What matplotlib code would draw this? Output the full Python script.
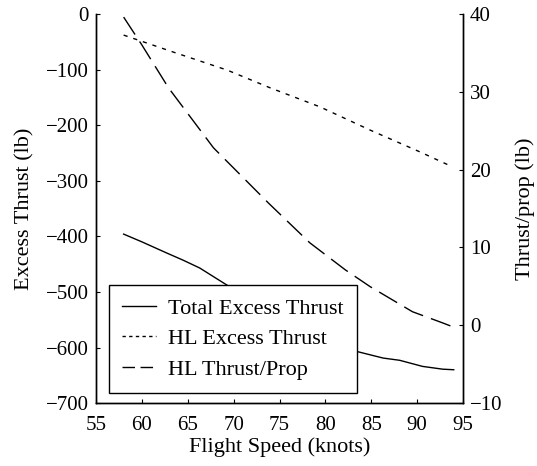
import numpy as np
import matplotlib
matplotlib.use("Agg")
import matplotlib.pyplot as plt
from matplotlib.lines import Line2D

plt.rcParams['font.family'] = ['Liberation Serif', 'DejaVu Serif']
plt.rcParams['font.size'] = 16

# total excess thrust (left axis)
speed_total = [58, 60, 62.7, 64.5, 66.3, 69.1, 72, 75, 78, 81, 83.4, 86.3, 88.1, 90.6, 92.8, 94]
total_excess = [-396, -410, -430, -443, -457, -486, -515, -545, -568, -590, -607, -619, -623, -634, -639, -640]

# HL excess thrust (left axis)
speed_hl = [58, 63.5, 69.3, 74, 79.4, 84.9, 90.3, 93.6]
hl_excess = [-38, -69, -101, -133, -167, -209, -248, -273]

# HL thrust per prop (right axis)
speed_prop = [58, 60, 62.9, 67.8, 73.8, 78.3, 82.2, 84.9, 89.5, 92.8, 93.9]
hl_prop = [39.6, 36.0, 30.5, 22.8, 15.7, 10.6, 7.1, 4.95, 1.74, 0.3, -0.2]

fig = plt.figure(figsize=(5.37, 4.66), dpi=100)
ax = fig.add_axes([0.179, 0.135, 0.683, 0.835])
ax2 = ax.twinx()

ax.plot(speed_total, total_excess, color="black", lw=1.0)
ax.plot(speed_hl, hl_excess, color="black", lw=1.0, linestyle=(0, (3, 4.3)))
ax2.plot(speed_prop, hl_prop, color="black", lw=1.0, linestyle=(0, (15, 6)))

ax.set_xlim(55, 95)
ax.set_ylim(-700, 0)
ax2.set_ylim(-10, 40)
ax.set_xticks(np.arange(55, 96, 5))
ax.set_yticks(np.arange(-700, 1, 100))
ax2.set_yticks(np.arange(-10, 41, 10))

for a in (ax, ax2):
    a.spines['top'].set_visible(False)
    for s in a.spines.values():
        s.set_linewidth(1.0)
ax.tick_params(direction="in", length=3, width=0.8, labelsize=15, top=False, right=False)
ax.tick_params(axis="x", pad=9)
ax.tick_params(axis="y", pad=5.5)
ax2.tick_params(direction="in", length=3, width=0.8, pad=5, labelsize=15)

ax.set_xlabel("Flight Speed (knots)", labelpad=2)
ax.set_ylabel("Excess Thrust (lb)", labelpad=8)
ax2.set_ylabel("Thrust/prop (lb)", labelpad=9)

# legend handles with shorter dash patterns, like the original
handles = [
    Line2D([], [], color="black", lw=1.0),
    Line2D([], [], color="black", lw=1.0, linestyle=(0, (2.4, 2.4))),
    Line2D([], [], color="black", lw=1.0, linestyle=(0, (9, 4))),
]
labels = ["Total Excess Thrust", "HL Excess Thrust", "HL Thrust/Prop"]
leg = ax.legend(handles, labels, loc="lower left", bbox_to_anchor=(0.035, 0.026),
                fancybox=False, edgecolor="black", framealpha=1, handlelength=1.5,
                borderaxespad=0, labelspacing=0.45, handletextpad=0.55, borderpad=0.6)
leg.get_frame().set_linewidth(1.0)
ax.set_zorder(ax2.get_zorder() + 1)
ax.patch.set_visible(False)

fig.savefig("out.png", dpi=100)
